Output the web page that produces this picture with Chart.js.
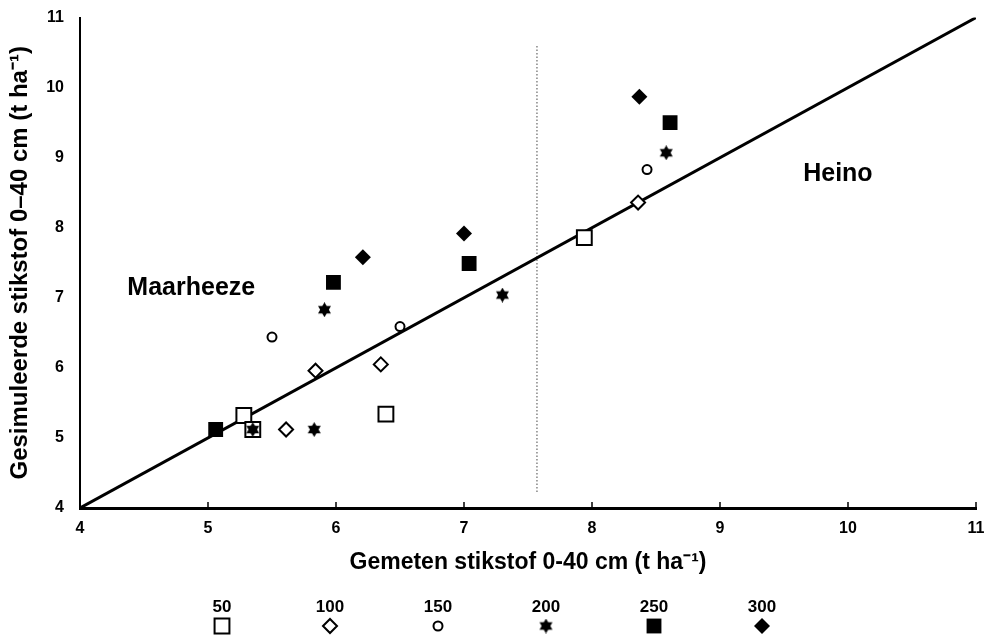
<!DOCTYPE html>
<html>
<head>
<meta charset="utf-8">
<script src="https://cdn.jsdelivr.net/npm/chart.js@4.4.1/dist/chart.umd.min.js"></script>
<style>
  html, body { margin: 0; padding: 0; background: #fff; }
  #wrap { width: 984px; height: 639px; }
</style>
</head>
<body>
<div id="wrap"><canvas id="my-canvas"></canvas></div>
<script>
// doses (legend labels)
const doses = ['50', '100', '150', '200', '250', '300'];

// measured (x) and simulated (y) nitrogen, t/ha, per dose
const meas50 = [5.28, 5.35, 6.39, 7.94];
const sim50 = [5.32, 5.12, 5.34, 7.86];
const meas100 = [5.84, 5.61, 6.35, 8.36];
const sim100 = [5.96, 5.12, 6.05, 8.36];
const meas150 = [5.50, 6.50, 8.43];
const sim150 = [6.44, 6.59, 8.83];
const meas200 = [5.91, 5.83, 5.35, 7.30, 8.58];
const sim200 = [6.83, 5.12, 5.12, 7.04, 9.07];
const meas250 = [5.06, 5.98, 7.04, 8.61];
const sim250 = [5.12, 7.22, 7.49, 9.50];
const meas300 = [6.21, 7.00, 8.37];
const sim300 = [7.58, 7.92, 9.87];

// 1:1 line and the split between the two sites
const oneToOne = [4, 11];
const siteSplitX = 7.57;
const siteSplitY = [4.23, 10.62];

const xTicks = [4, 5, 6, 7, 8, 9, 10, 11];
const yTicks = [4, 5, 6, 7, 8, 9, 10, 11];

const siteLabels = ['Maarheeze', 'Heino'];
const siteLabelPos = [[4.37, 7.14], [9.65, 8.76]];

function pairs(xs, ys) {
  return xs.map((x, i) => ({ x: x, y: ys[i] }));
}

// six pointed star marker
function makeStar(size) {
  const c = document.createElement('canvas');
  c.width = size; c.height = size;
  const g = c.getContext('2d');
  const r = size / 2;
  g.fillStyle = '#000';
  [-90, 90].forEach(start => {
    g.beginPath();
    for (let k = 0; k < 3; k++) {
      const a = (start + k * 120) * Math.PI / 180;
      const px = r + r * Math.cos(a), py = r + r * Math.sin(a);
      if (k === 0) g.moveTo(px, py); else g.lineTo(px, py);
    }
    g.closePath();
    g.fill();
  });
  return c;
}
const starImg = makeStar(15);

const tickFont = { family: '"Liberation Sans", Arial', weight: 'bold', size: 16 };

const ptDefaults = { showLine: false, borderColor: '#000', order: 1 };

const datasets = [
  Object.assign({}, ptDefaults, { label: doses[0], data: pairs(meas50, sim50), pointStyle: 'rect', pointRadius: 10.5, backgroundColor: '#fff', borderWidth: 2 }),
  Object.assign({}, ptDefaults, { label: doses[1], data: pairs(meas100, sim100), pointStyle: 'rectRot', pointRadius: 7, backgroundColor: '#fff', borderWidth: 2 }),
  Object.assign({}, ptDefaults, { label: doses[2], data: pairs(meas150, sim150), pointStyle: 'circle', pointRadius: 4.5, backgroundColor: '#fff', borderWidth: 2 }),
  Object.assign({}, ptDefaults, { label: doses[3], data: pairs(meas200, sim200), pointStyle: starImg, pointRadius: 7, backgroundColor: '#000', borderWidth: 0, order: 0 }),
  Object.assign({}, ptDefaults, { label: doses[4], data: pairs(meas250, sim250), pointStyle: 'rect', pointRadius: 10.5, backgroundColor: '#000', borderWidth: 0 }),
  Object.assign({}, ptDefaults, { label: doses[5], data: pairs(meas300, sim300), pointStyle: 'rectRot', pointRadius: 8, backgroundColor: '#000', borderWidth: 0 }),
  {
    label: '1:1', data: pairs(oneToOne, oneToOne), showLine: true, pointRadius: 0,
    borderColor: '#000', borderWidth: 3, order: 5
  },
  {
    label: 'split', data: pairs([siteSplitX, siteSplitX], siteSplitY), showLine: true, pointRadius: 0,
    borderColor: '#666', borderWidth: 1.2, borderDash: [1.5, 2], order: 6
  }
];

// inward tick marks, site names and the bottom legend
const extras = {
  id: 'extras',
  afterDraw(chart) {
    const ctx = chart.ctx;
    const xs = chart.scales.x, ys = chart.scales.y;
    ctx.save();
    ctx.strokeStyle = '#000';
    ctx.lineWidth = 1.5;
    xTicks.forEach(v => {
      const px = xs.getPixelForValue(v);
      ctx.beginPath();
      ctx.moveTo(px, ys.bottom);
      ctx.lineTo(px, ys.bottom - 6);
      ctx.stroke();
    });

    ctx.fillStyle = '#000';
    ctx.font = 'bold 25px "Liberation Sans", Arial';
    ctx.textBaseline = 'middle';
    ctx.textAlign = 'left';
    siteLabels.forEach((t, i) => {
      ctx.fillText(t, xs.getPixelForValue(siteLabelPos[i][0]), ys.getPixelForValue(siteLabelPos[i][1]));
    });

    // legend
    ctx.font = 'bold 17px "Liberation Sans", Arial';
    ctx.textAlign = 'center';
    doses.forEach((d, i) => {
      const ds = chart.data.datasets[i];
      const cx = 222 + i * 108;
      ctx.fillStyle = '#000';
      ctx.fillText(d, cx, 607);
      ctx.fillStyle = ds.backgroundColor;
      ctx.strokeStyle = '#000';
      ctx.lineWidth = ds.borderWidth;
      Chart.helpers.drawPoint(ctx, {
        pointStyle: ds.pointStyle, radius: ds.pointRadius, rotation: 0, borderWidth: ds.borderWidth
      }, cx, 626);
    });
    ctx.restore();
  }
};

const chart = new Chart(document.getElementById('my-canvas').getContext('2d'), {
  type: 'scatter',
  data: { datasets: datasets },
  options: {
    responsive: true,
    maintainAspectRatio: false,
    animation: false,
    layout: { autoPadding: false, padding: { top: 15, right: 8, left: 0, bottom: 0 } },
    plugins: { legend: { display: false }, tooltip: { enabled: false } },
    scales: {
      x: {
        type: 'linear', min: 4, max: 11,
        afterBuildTicks(s) { s.ticks = xTicks.map(v => ({ value: v })); },
        afterFit(s) { s.height = 131; s.paddingLeft = 0; s.paddingRight = 0; },
        grid: { display: false },
        border: { color: '#000', width: 3 },
        ticks: { color: '#000', font: tickFont, padding: 3, maxRotation: 0 },
        title: { display: true, text: 'Gemeten stikstof 0-40 cm (t ha⁻¹)', color: '#000', font: { family: '"Liberation Sans", Arial', weight: 'bold', size: 23 }, padding: { top: 0, bottom: 63 } }
      },
      y: {
        type: 'linear', min: 4, max: 11,
        afterBuildTicks(s) { s.ticks = yTicks.map(v => ({ value: v })); },
        afterFit(s) { s.width = 80; },
        grid: { display: false },
        border: { color: '#000', width: 2 },
        ticks: { color: '#000', font: tickFont, padding: 8 },
        title: { display: true, text: 'Gesimuleerde stikstof 0–40 cm (t ha⁻¹)', color: '#000', font: { family: '"Liberation Sans", Arial', weight: 'bold', size: 24 }, padding: { top: 6, bottom: 0 } }
      }
    }
  },
  plugins: [extras]
});
</script>
</body>
</html>
